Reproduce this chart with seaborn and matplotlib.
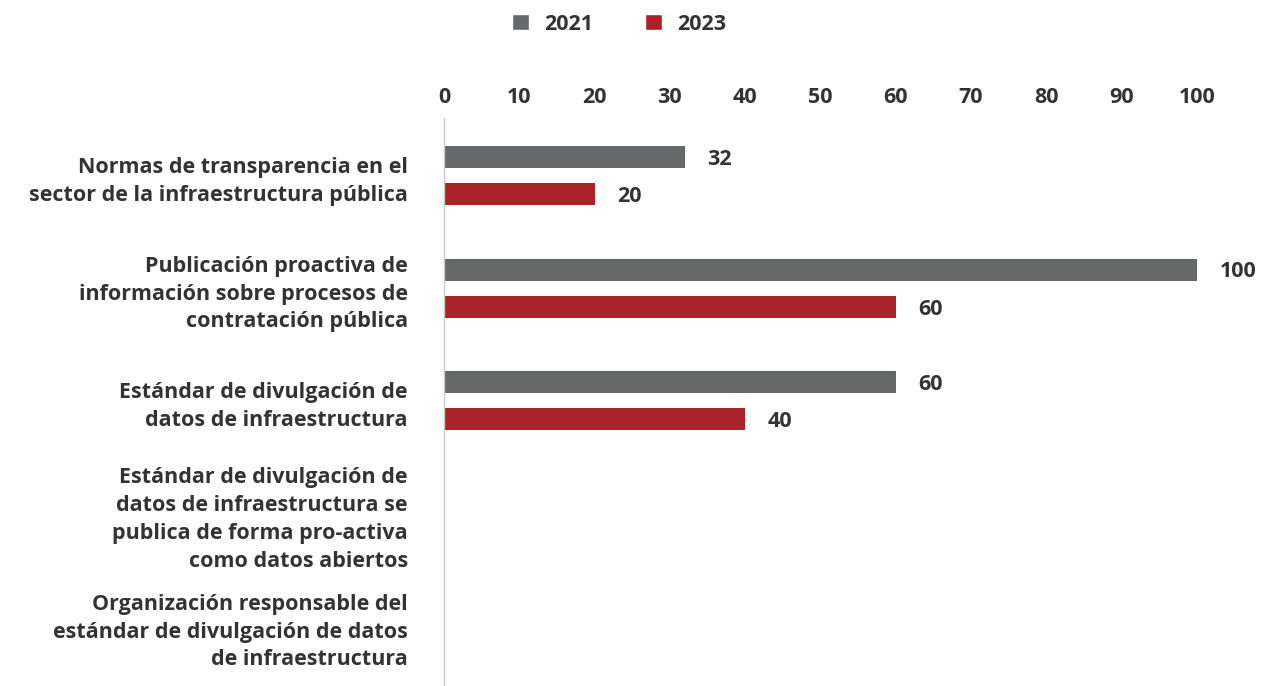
import matplotlib
matplotlib.use("Agg")
import matplotlib.pyplot as plt
import seaborn as sns
import pandas as pd
from matplotlib.patches import Patch

categories = [
    "Normas de transparencia en el\nsector de la infraestructura pública",
    "Publicación proactiva de\ninformación sobre procesos de\ncontratación pública",
    "Estándar de divulgación de\ndatos de infraestructura",
    "Estándar de divulgación de\ndatos de infraestructura se\npublica de forma pro-activa\ncomo datos abiertos",
    "Organización responsable del\nestándar de divulgación de datos\nde infraestructura",
]
series_names = ["2021", "2023"]
values_2021 = [32, 100, 60, None, None]
values_2023 = [20, 60, 40, None, None]
x_ticks = [0, 10, 20, 30, 40, 50, 60, 70, 80, 90, 100]
colors = ["#67686a", "#aa2328"]

sns.set_theme(style="white")
plt.rcParams["font.family"] = ["Open Sans", "DejaVu Sans"]
txt = "#333333"
FW = "bold"
FS = 15.5

rows = []
for c, v1, v2 in zip(categories, values_2021, values_2023):
    rows.append({"cat": c, "year": series_names[0], "val": v1 if v1 is not None else 0})
    rows.append({"cat": c, "year": series_names[1], "val": v2 if v2 is not None else 0})
df = pd.DataFrame(rows)

fig = plt.figure(figsize=(12.69, 6.86), dpi=100)
ax = fig.add_axes([444/1269, 0.0, (1197-444)/1269, 1-118/686])
sns.barplot(data=df, y="cat", x="val", hue="year", palette=colors, orient="h",
            width=0.66, dodge=True, ax=ax, legend=False, saturation=1)

for p in ax.patches:
    cy = p.get_y() + p.get_height() / 2
    h = 0.195
    p.set_y(cy - h / 2)
    p.set_height(h)
    p.set_edgecolor("none")

ax.set_xlim(0, 100)
ax.set_ylim(4.53, -0.51)
ax.xaxis.tick_top()
ax.set_xticks(x_ticks)
ax.set_xticklabels([str(t) for t in x_ticks], fontsize=FS, fontweight=FW, color=txt)
ax.tick_params(axis="x", length=0, pad=7)
ax.tick_params(axis="y", length=0, pad=26)
ax.set_yticks(range(len(categories)))
ax.set_yticklabels(categories, fontsize=FS, fontweight=FW, color=txt,
                   ha="right", multialignment="right", linespacing=1.42)
ax.set_xlabel("")
ax.set_ylabel("")
for s in ["top", "right", "bottom"]:
    ax.spines[s].set_visible(False)
ax.spines["left"].set_color("#c8c8c8")
ax.spines["left"].set_linewidth(1)

for p in ax.patches:
    w = p.get_width()
    if w > 0:
        ax.text(w + 3.0, p.get_y() + p.get_height() / 2 + 0.02, f"{int(round(w))}",
                va="center", ha="left", fontsize=FS, fontweight=FW, color=txt)

handles = [Patch(facecolor=colors[0], label=series_names[0]),
           Patch(facecolor=colors[1], label=series_names[1])]
fig.legend(handles=handles, loc="center", bbox_to_anchor=(619/1269, 1-24/686), ncol=2,
           frameon=False, prop={"size": FS, "weight": FW}, handlelength=0.8,
           handleheight=0.8, handletextpad=0.7, columnspacing=2.4, labelcolor=txt)

fig.savefig("out.png", dpi=100)
